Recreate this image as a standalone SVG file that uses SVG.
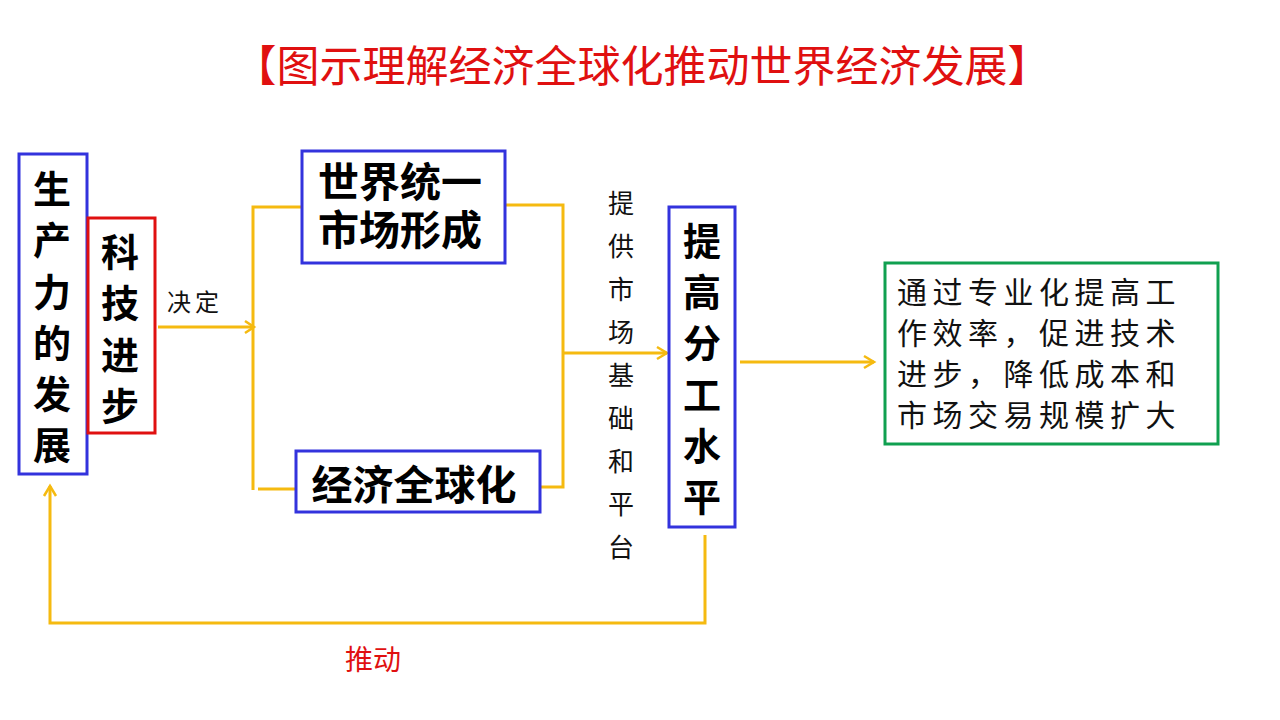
<svg xmlns="http://www.w3.org/2000/svg" width="1280" height="720" viewBox="0 0 1280 720">
<defs>
<style>
text{font-family:"Noto Sans CJK SC","Noto Sans",sans-serif;dominant-baseline:central;text-anchor:middle}
.box{fill:#fff;stroke-width:3}
.blue{stroke:#3333DD}
.red{stroke:#E01010}
.green{stroke:#10A050}
.big{font-size:38px;font-weight:bold;fill:#000}
.wide{font-size:41px;font-weight:bold;fill:#000}
.tight{font-family:"Liberation Sans","Noto Sans CJK SC",sans-serif}
.thin{font-size:26px;fill:#111}
.ln{fill:none;stroke:#F5BA10;stroke-width:3}
.ah{fill:none;stroke:#F5BA10;stroke-width:2.5}
</style>
</defs>
<rect width="1280" height="720" fill="#fff"/>
<text x="642" y="63" font-size="43" fill="#E01010">【图示理解经济全球化推动世界经济发展】</text>

<g id="connectors">
<path class="ln" d="M158,327 L253,327"/>
<path class="ah" d="M245,321 L254,327 L245,333"/>
<path class="ln" d="M302,207 L253,207 L253,490"/>
<path class="ln" d="M258,489 L295,489"/>
<path class="ln" d="M506,205 L563,205 L563,487 L537,487"/>
<path class="ln" d="M563,353 L667,353"/>
<path class="ah" d="M657,347 L667,353 L657,359"/>
<path class="ln" d="M740,362 L874,362"/>
<path class="ah" d="M864,356 L874,362 L864,368"/>
<path class="ln" d="M705,535 L705,623 L50,623 L50,486"/>
<path class="ah" d="M44,496 L50,486 L56,496"/>
</g>

<g id="n-shengchanli">
<rect class="box blue" x="19" y="154" width="68" height="320"/>
<text class="big" x="52" y="186">生</text>
<text class="big" x="52" y="237">产</text>
<text class="big" x="52" y="289">力</text>
<text class="big" x="52" y="340">的</text>
<text class="big" x="52" y="391">发</text>
<text class="big" x="52" y="442">展</text>
</g>

<g id="n-keji">
<rect class="box red" x="88" y="218" width="67" height="215"/>
<text class="big" x="120" y="249">科</text>
<text class="big" x="120" y="300">技</text>
<text class="big" x="120" y="352">进</text>
<text class="big" x="120" y="403">步</text>
</g>

<text x="195" y="300" font-size="24" fill="#111" letter-spacing="4">决定</text>

<g id="n-shijie">
<rect class="box blue" x="302" y="151" width="203" height="112"/>
<text class="wide tight" x="400" y="183">世界统一</text>
<text class="wide tight" x="400" y="231">市场形成</text>
</g>

<g id="n-jingji">
<rect class="box blue" x="296" y="451" width="244" height="61"/>
<text class="wide" x="414" y="482">经济全球化</text>
</g>

<g id="l-tigong">
<text class="thin" x="621" y="201">提</text>
<text class="thin" x="621" y="244">供</text>
<text class="thin" x="621" y="287">市</text>
<text class="thin" x="621" y="330">场</text>
<text class="thin" x="621" y="373">基</text>
<text class="thin" x="621" y="416">础</text>
<text class="thin" x="621" y="459">和</text>
<text class="thin" x="621" y="502">平</text>
<text class="thin" x="621" y="545">台</text>
</g>

<g id="n-fengong">
<rect class="box blue" x="669" y="207" width="66" height="320"/>
<text class="big" x="702" y="238">提</text>
<text class="big" x="702" y="289">高</text>
<text class="big" x="702" y="340">分</text>
<text class="big" x="702" y="392">工</text>
<text class="big" x="702" y="443">水</text>
<text class="big" x="702" y="494">平</text>
</g>

<g id="n-result">
<rect class="box green" x="885" y="263" width="333" height="181"/>
<text font-size="30" fill="#111" letter-spacing="5.5" style="text-anchor:start"><tspan x="897" y="290">通过专业化提高工</tspan><tspan x="897" y="331">作效率，促进技术</tspan><tspan x="897" y="372">进步，降低成本和</tspan><tspan x="897" y="413">市场交易规模扩大</tspan></text>
</g>

<text x="373" y="658" font-size="28" fill="#E01010">推动</text>
</svg>
